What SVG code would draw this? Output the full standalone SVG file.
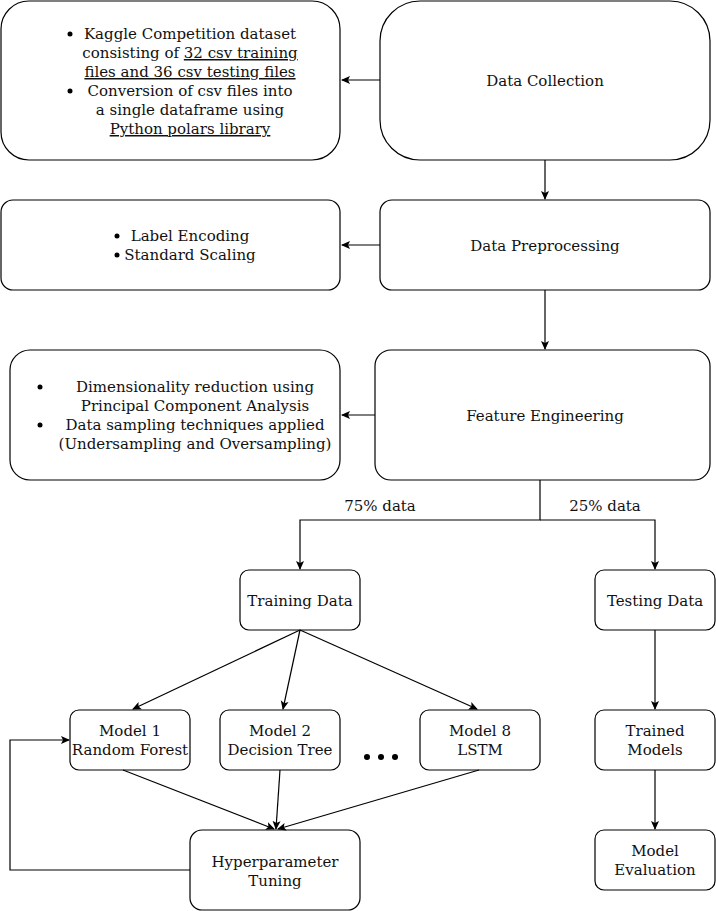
<svg xmlns="http://www.w3.org/2000/svg" width="716" height="911" viewBox="0 0 716 911">
<style>
.n{fill:#fff;stroke:#000;stroke-width:1.2}
.t{font-family:"DejaVu Serif","Liberation Serif",serif;font-size:15px;fill:#111;text-anchor:middle}
.u{text-decoration:underline}
.c{fill:none;stroke:#000;stroke-width:1.2}
</style>
<defs>
<marker id="a" markerWidth="10" markerHeight="10" refX="8" refY="5" orient="auto" markerUnits="userSpaceOnUse">
<path d="M0,1 L9,5 L0,9 L2,5 Z" fill="#000"/>
</marker>
</defs>
<rect width="716" height="911" fill="#fff"/>
<g id="kaggle">
<rect class="n" x="1" y="1" width="339" height="159" rx="28"/>
<circle cx="70" cy="34" r="2.5" fill="#000"/>
<circle cx="70" cy="91" r="2.5" fill="#000"/>
<text class="t" x="190" y="39">Kaggle Competition dataset</text>
<text class="t" x="190" y="58">consisting of <tspan class="u">32 csv training</tspan></text>
<text class="t" x="190" y="77"><tspan class="u">files and 36 csv testing files</tspan></text>
<text class="t" x="190" y="96">Conversion of csv files into</text>
<text class="t" x="190" y="115">a  single dataframe using</text>
<text class="t" x="190" y="134"><tspan class="u">Python polars library</tspan></text>
</g>
<g id="collection">
<rect class="n" x="380" y="1" width="330" height="159" rx="40"/>
<text class="t" x="545" y="86">Data Collection</text>
</g>
<g id="encoding">
<rect class="n" x="1" y="200" width="339" height="90" rx="12"/>
<circle cx="117" cy="236" r="2.5" fill="#000"/>
<circle cx="117" cy="255" r="2.5" fill="#000"/>
<text class="t" x="190" y="241">Label Encoding</text>
<text class="t" x="190" y="260">Standard Scaling</text>
</g>
<g id="preprocessing">
<rect class="n" x="380" y="200" width="330" height="90" rx="12"/>
<text class="t" x="545" y="251">Data Preprocessing</text>
</g>
<g id="dimred">
<rect class="n" x="10" y="350" width="330" height="130" rx="20"/>
<circle cx="40" cy="387" r="2.5" fill="#000"/>
<circle cx="40" cy="425" r="2.5" fill="#000"/>
<text class="t" x="195" y="392">Dimensionality reduction using</text>
<text class="t" x="195" y="411">Principal Component Analysis</text>
<text class="t" x="195" y="430">Data sampling techniques applied</text>
<text class="t" x="195" y="449">(Undersampling and Oversampling)</text>
</g>
<g id="feature">
<rect class="n" x="375" y="350" width="335" height="130" rx="16"/>
<text class="t" x="545" y="421">Feature Engineering</text>
</g>
<g id="training">
<rect class="n" x="240" y="570" width="120" height="60" rx="9"/>
<text class="t" x="300" y="606">Training Data</text>
</g>
<g id="testing">
<rect class="n" x="595" y="570" width="120" height="60" rx="9"/>
<text class="t" x="655" y="606">Testing Data</text>
</g>
<g id="model1">
<rect class="n" x="70" y="710" width="120" height="60" rx="9"/>
<text class="t" x="130" y="736">Model 1</text>
<text class="t" x="130" y="755">Random Forest</text>
</g>
<g id="model2">
<rect class="n" x="220" y="710" width="120" height="60" rx="9"/>
<text class="t" x="280" y="736">Model 2</text>
<text class="t" x="280" y="755">Decision Tree</text>
</g>
<g id="dots">
<circle cx="367" cy="757" r="3" fill="#000"/>
<circle cx="381" cy="757" r="3" fill="#000"/>
<circle cx="395" cy="757" r="3" fill="#000"/>
</g>
<g id="model8">
<rect class="n" x="420" y="710" width="120" height="60" rx="9"/>
<text class="t" x="480" y="736">Model 8</text>
<text class="t" x="480" y="755">LSTM</text>
</g>
<g id="hyper">
<rect class="n" x="190" y="830" width="170" height="80" rx="12"/>
<text class="t" x="275" y="867">Hyperparameter</text>
<text class="t" x="275" y="886">Tuning</text>
</g>
<g id="trained">
<rect class="n" x="595" y="710" width="120" height="60" rx="9"/>
<text class="t" x="655" y="736">Trained</text>
<text class="t" x="655" y="755">Models</text>
</g>
<g id="evaluation">
<rect class="n" x="595" y="830" width="120" height="60" rx="9"/>
<text class="t" x="655" y="856">Model</text>
<text class="t" x="655" y="875">Evaluation</text>
</g>
<g id="connectors">
<line class="c" x1="380" y1="80" x2="342" y2="80" marker-end="url(#a)"/>
<line class="c" x1="545" y1="160" x2="545" y2="199" marker-end="url(#a)"/>
<line class="c" x1="380" y1="245" x2="342" y2="245" marker-end="url(#a)"/>
<line class="c" x1="545" y1="290" x2="545" y2="349" marker-end="url(#a)"/>
<line class="c" x1="375" y1="415" x2="342" y2="415" marker-end="url(#a)"/>
<polyline class="c" points="540,480 540,520 300,520 300,569" marker-end="url(#a)"/>
<polyline class="c" points="540,520 655,520 655,569" marker-end="url(#a)"/>
<text class="t" x="380" y="511">75% data</text>
<text class="t" x="605" y="511">25% data</text>
<line class="c" x1="300" y1="630" x2="133" y2="709" marker-end="url(#a)"/>
<line class="c" x1="300" y1="630" x2="283" y2="709" marker-end="url(#a)"/>
<line class="c" x1="300" y1="630" x2="477" y2="709" marker-end="url(#a)"/>
<line class="c" x1="123" y1="770" x2="274" y2="829" marker-end="url(#a)"/>
<line class="c" x1="280" y1="770" x2="276" y2="829" marker-end="url(#a)"/>
<line class="c" x1="479" y1="770" x2="278" y2="829" marker-end="url(#a)"/>
<polyline class="c" points="190,870 10,870 10,740 69,740" marker-end="url(#a)"/>
<line class="c" x1="655" y1="630" x2="655" y2="709" marker-end="url(#a)"/>
<line class="c" x1="655" y1="770" x2="655" y2="829" marker-end="url(#a)"/>
</g>
</svg>
